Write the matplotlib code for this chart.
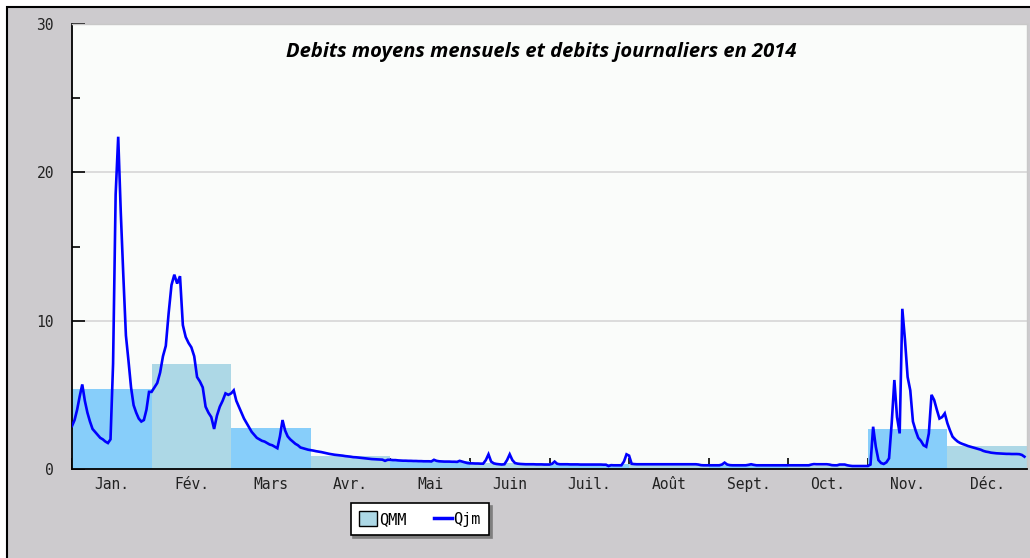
import numpy as np
import matplotlib
matplotlib.use("Agg")
import matplotlib.pyplot as plt
from matplotlib.patches import Patch, Rectangle
from matplotlib.lines import Line2D

# ---------------- data ----------------
months = ["Jan.", "Fév.", "Mars", "Avr.", "Mai", "Juin",
          "Juil.", "Août", "Sept.", "Oct.", "Nov.", "Déc."]

# monthly mean flow (QMM)
qmm = [5.4, 7.1, 2.75, 0.85, 0.52, 0.42, 0.32, 0.33, 0.25, 0.22, 2.7, 1.55]

# daily flow (Qjm), one list per month
q_jan = [2.9, 3.3, 4.0, 4.9, 5.7, 4.6, 3.8, 3.2, 2.7, 2.5,
         2.3, 2.1, 2.0, 1.85, 1.75, 2.0, 7.1, 18.5, 22.4, 17.3,
         13.0, 9.0, 7.3, 5.5, 4.3, 3.8, 3.4, 3.2, 3.3, 4.0, 5.2]
q_feb = [5.2, 5.5, 5.8, 6.5, 7.6, 8.3, 10.5, 12.4, 13.1, 12.5,
         13.0, 9.7, 8.9, 8.5, 8.2, 7.6, 6.2, 5.9, 5.5, 4.2,
         3.8, 3.5, 2.7, 3.6, 4.2, 4.6, 5.1, 5.0]
q_mar = [5.1, 5.3, 4.6, 4.2, 3.8, 3.4, 3.1, 2.8, 2.5, 2.3,
         2.1, 2.0, 1.9, 1.85, 1.75, 1.65, 1.6, 1.5, 1.4, 2.2,
         3.3, 2.6, 2.2, 2.0, 1.85, 1.7, 1.6, 1.45, 1.4, 1.35, 1.3]
q_apr = [1.27, 1.24, 1.2, 1.17, 1.14, 1.1, 1.06, 1.02, 0.99, 0.96,
         0.94, 0.92, 0.9, 0.87, 0.85, 0.83, 0.8, 0.79, 0.77, 0.75,
         0.73, 0.71, 0.69, 0.67, 0.66, 0.65, 0.64, 0.63, 0.55, 0.62]
q_may = [0.62, 0.6, 0.6, 0.58, 0.57, 0.56, 0.56, 0.55, 0.55, 0.54,
         0.54, 0.53, 0.53, 0.52, 0.52, 0.52, 0.51, 0.62, 0.55, 0.52,
         0.51, 0.5, 0.5, 0.5, 0.49, 0.49, 0.48, 0.55, 0.5, 0.45, 0.4]
q_jun = [0.38, 0.38, 0.37, 0.37, 0.36, 0.36, 0.6, 0.99, 0.5, 0.38,
         0.34, 0.32, 0.3, 0.32, 0.6, 0.99, 0.6, 0.4, 0.36, 0.34,
         0.33, 0.32, 0.32, 0.32, 0.32, 0.31, 0.31, 0.31, 0.3, 0.3]
q_jul = [0.3, 0.35, 0.5, 0.35, 0.32, 0.32, 0.32, 0.32, 0.31, 0.31,
         0.31, 0.31, 0.3, 0.3, 0.3, 0.3, 0.3, 0.3, 0.3, 0.3,
         0.3, 0.29, 0.29, 0.2, 0.26, 0.25, 0.25, 0.25, 0.25, 0.5, 0.99]
q_aug = [0.9, 0.35, 0.33, 0.32, 0.32, 0.32, 0.32, 0.32, 0.32, 0.32,
         0.32, 0.32, 0.32, 0.32, 0.32, 0.32, 0.32, 0.32, 0.32, 0.32,
         0.32, 0.32, 0.32, 0.32, 0.32, 0.32, 0.32, 0.3, 0.26, 0.25, 0.25]
q_sep = [0.25, 0.25, 0.25, 0.25, 0.25, 0.3, 0.43, 0.3, 0.26, 0.25,
         0.25, 0.25, 0.25, 0.25, 0.25, 0.28, 0.32, 0.28, 0.25, 0.25,
         0.25, 0.25, 0.25, 0.25, 0.25, 0.25, 0.25, 0.25, 0.25, 0.25]
q_oct = [0.25, 0.25, 0.25, 0.25, 0.25, 0.25, 0.25, 0.25, 0.25, 0.3,
         0.33, 0.32, 0.32, 0.32, 0.32, 0.32, 0.3, 0.26, 0.25, 0.25,
         0.3, 0.3, 0.3, 0.25, 0.22, 0.2, 0.2, 0.2, 0.2, 0.2, 0.2]
q_nov = [0.2, 0.3, 2.85, 1.5, 0.6, 0.4, 0.34, 0.45, 0.72, 3.1,
         6.0, 3.5, 2.4, 10.8, 8.7, 6.2, 5.3, 3.2, 2.6, 2.1,
         1.9, 1.6, 1.5, 2.4, 5.0, 4.65, 4.0, 3.4, 3.5, 3.75]
q_dec = [3.08, 2.6, 2.18, 2.0, 1.85, 1.75, 1.68, 1.62, 1.55, 1.5,
         1.45, 1.4, 1.35, 1.3, 1.22, 1.17, 1.14, 1.1, 1.08, 1.06,
         1.05, 1.04, 1.03, 1.02, 1.02, 1.01, 1.01, 1.01, 1.0, 0.95, 0.83]

daily = [q_jan, q_feb, q_mar, q_apr, q_may, q_jun,
         q_jul, q_aug, q_sep, q_oct, q_nov, q_dec]

title = "Debits moyens mensuels et debits journaliers en 2014"

# ---------------- figure ----------------
W, H = 1030, 558
fig = plt.figure(figsize=(W / 100, H / 100), dpi=100, facecolor="white")

# gray panel with black border (left/top visible)
fig.patches.append(Rectangle((7 / W, -0.1), 1.2, 1 - 7 / H + 0.1,
                             transform=fig.transFigure, facecolor="#cdcbce",
                             edgecolor="black", linewidth=1.5, zorder=-10))

ax = fig.add_axes([72 / W, 1 - 469 / H, (1027 - 72) / W, (469 - 24) / H])
ax.set_zorder(1)
ax.set_facecolor("#fafcfa")

# bars
bar_colors = ["#87cefa" if i % 2 == 0 else "#add8e6" for i in range(12)]
ax.bar(np.arange(12), qmm, width=1.0, align="edge", color=bar_colors,
       linewidth=0, zorder=2)

# daily line
xs, ys = [], []
for m, vals in enumerate(daily):
    n = len(vals)
    xs.extend(m + np.arange(n) / n)
    ys.extend(vals)
ax.plot(xs, ys, color="#0000ff", linewidth=1.9, zorder=3,
        solid_joinstyle="miter")

ax.set_xlim(0, 12)
ax.set_ylim(0, 30)

# grid
ax.set_yticks([0, 10, 20, 30])
ax.set_yticks([5, 15, 25], minor=True)
ax.yaxis.grid(True, which="major", color="#d6d6d6", linewidth=1.2, zorder=1)
ax.set_axisbelow(True)

mono = "DejaVu Sans Mono"
ax.set_yticklabels(["0", "10", "20", "30"], fontfamily=mono, fontsize=10.5,
                   color="#222222")
ax.tick_params(axis="y", which="major", direction="in", length=9, width=1.2,
               pad=13, color="black")
ax.tick_params(axis="y", which="minor", direction="in", length=6, width=1.2,
               color="black")

ax.set_xticks(np.arange(13))
ax.set_xticklabels([])
ax.set_xticks(np.arange(12) + 0.5, minor=True)
ax.set_xticklabels(months, minor=True, fontfamily=mono, fontsize=10.5,
                   color="#222222")
ax.tick_params(axis="x", which="major", direction="in", length=8, width=1.2,
               color="black")
ax.tick_params(axis="x", which="minor", length=0, pad=6)

for s in ["left", "bottom"]:
    ax.spines[s].set_color("black")
    ax.spines[s].set_linewidth(1.3)
for s in ["top", "right"]:
    ax.spines[s].set_color("#c8c8c8")
    ax.spines[s].set_linewidth(1.0)

ax.text(0.491, 0.937, title, transform=ax.transAxes, ha="center", va="center",
        fontsize=14.5, fontweight="bold", fontstyle="italic", family="Open Sans",
        color="black", zorder=5)

# legend
handles = [Patch(facecolor="#add8e6", edgecolor="black", linewidth=1.0),
           Line2D([0], [0], color="#0000ff", linewidth=2.5)]
leg = fig.legend(handles, ["QMM", "Qjm"], loc="center",
                 bbox_to_anchor=(420 / W, 1 - 519 / H), ncol=2,
                 prop={"family": mono, "size": 11}, frameon=True,
                 fancybox=False, shadow={"color": "#7f7f7f", "alpha": 1},
                 edgecolor="black", framealpha=1, handlelength=1.2,
                 handleheight=1.1, handletextpad=0.1, columnspacing=1.8,
                 borderpad=0.55)
leg.get_frame().set_linewidth(1.2)

fig.savefig("out.png", dpi=100, facecolor=fig.get_facecolor())
